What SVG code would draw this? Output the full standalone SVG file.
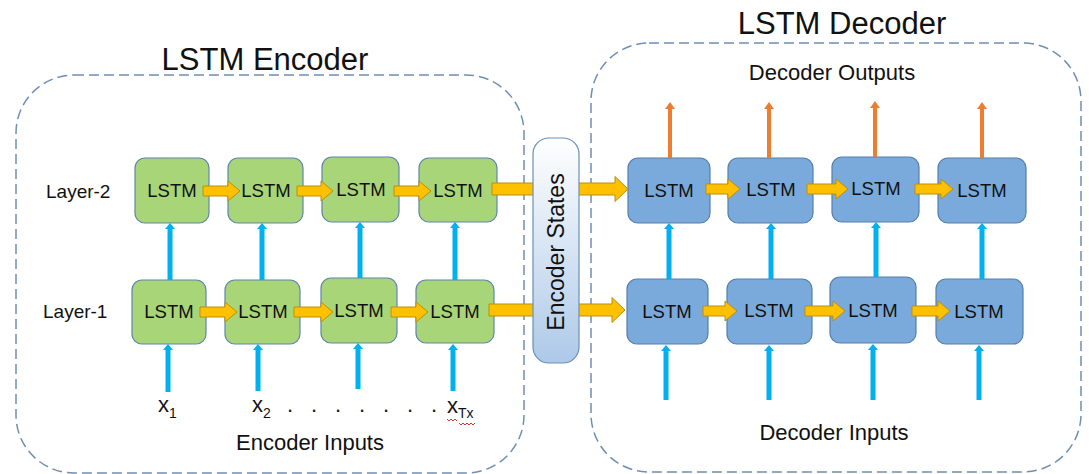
<svg xmlns="http://www.w3.org/2000/svg" width="1089" height="474" viewBox="0 0 1089 474">
  <style>
    text { font-family: "Liberation Sans", Arial, sans-serif; fill: #111111; }
    .frame { fill: none; stroke: #6f8fb5; stroke-width: 1.5; stroke-dasharray: 10 5; }
    .enc { fill: #a8d578; stroke: #5f86ad; stroke-width: 1.2; }
    .dec { fill: #7aaadb; stroke: #557fac; stroke-width: 1.2; }
    .cell { font-size: 18.5px; text-anchor: middle; }
    .title { font-size: 31px; text-anchor: middle; }
    .label { font-size: 22px; text-anchor: middle; }
    .layer { font-size: 19px; }
    .gold { fill: #ffc000; stroke: #b8900a; stroke-width: 1; }
    .up { stroke: #00b0f0; stroke-width: 5; fill: none; marker-end: url(#headBlue); }
    .out { stroke: #ed7d31; stroke-width: 4; fill: none; marker-end: url(#headOrange); }
    .xin { font-size: 22px; }
    .sub { font-size: 14px; }
  </style>
  <defs>
    <marker id="headBlue" viewBox="0 0 6 10" refX="0" refY="5" markerWidth="6" markerHeight="10" markerUnits="userSpaceOnUse" orient="auto">
      <path d="M0,0 L6,5 L0,10 Z" fill="#00b0f0"/>
    </marker>
    <marker id="headOrange" viewBox="0 0 7 10" refX="0" refY="5" markerWidth="7" markerHeight="10" markerUnits="userSpaceOnUse" orient="auto">
      <path d="M0,0 L7,5 L0,10 Z" fill="#ed7d31"/>
    </marker>
    <linearGradient id="stateFill" x1="0" y1="0" x2="0" y2="1">
      <stop offset="0" stop-color="#ffffff"/>
      <stop offset="1" stop-color="#adc9e8"/>
    </linearGradient>
  </defs>

  <!-- dashed containers and their titles -->
  <g id="encoder">
    <rect class="frame" x="16" y="75" width="508" height="398" rx="58"/>
    <text class="title" x="265" y="70">LSTM Encoder</text>
    <text class="label" x="310" y="450">Encoder Inputs</text>
    <text class="layer" x="46" y="198">Layer-2</text>
    <text class="layer" x="43" y="318">Layer-1</text>
    <text class="xin" x="158" y="412">x<tspan class="sub" dy="6">1</tspan></text>
    <text class="xin" x="252" y="412">x<tspan class="sub" dy="6">2</tspan></text>
    <text class="xin" x="287 311 335 359 383 407 431" y="412">.......</text>
    <text class="xin" x="447" y="413">x<tspan class="sub" dy="5">Tx</tspan></text>
    <path d="M447,419 l2,2 l2,-2 l2,2 l2,-2 l2,2 M459,423 l2,2 l2,-2 l2,2 l2,-2 l2,2 l2,-2 l2,2 l2,-2" fill="none" stroke="#e03030" stroke-width="1"/>
  </g>
  <g id="decoder">
    <rect class="frame" x="591" y="43" width="490" height="429" rx="58"/>
    <text class="title" x="842" y="34">LSTM Decoder</text>
    <text class="label" x="832" y="80">Decoder Outputs</text>
    <text class="label" x="834" y="440">Decoder Inputs</text>
  </g>

  <!-- encoder cells -->
  <g id="enc-2-1"><rect class="enc" x="135" y="158" width="74" height="65" rx="10"/><text class="cell" x="172" y="197">LSTM</text></g>
  <g id="enc-2-2"><rect class="enc" x="228" y="158" width="75" height="65" rx="10"/><text class="cell" x="266" y="197">LSTM</text></g>
  <g id="enc-2-3"><rect class="enc" x="322" y="157" width="77" height="65" rx="10"/><text class="cell" x="361" y="196">LSTM</text></g>
  <g id="enc-2-4"><rect class="enc" x="419" y="158" width="78" height="64" rx="10"/><text class="cell" x="458" y="197">LSTM</text></g>
  <g id="enc-1-1"><rect class="enc" x="132" y="280" width="74" height="64" rx="10"/><text class="cell" x="169" y="318">LSTM</text></g>
  <g id="enc-1-2"><rect class="enc" x="225" y="280" width="75" height="64" rx="10"/><text class="cell" x="263" y="318">LSTM</text></g>
  <g id="enc-1-3"><rect class="enc" x="321" y="278" width="76" height="65" rx="10"/><text class="cell" x="359" y="317">LSTM</text></g>
  <g id="enc-1-4"><rect class="enc" x="416" y="280" width="78" height="63" rx="10"/><text class="cell" x="455" y="318">LSTM</text></g>

  <!-- decoder cells -->
  <g id="dec-2-1"><rect class="dec" x="628" y="158" width="82" height="65" rx="10"/><text class="cell" x="669" y="197">LSTM</text></g>
  <g id="dec-2-2"><rect class="dec" x="728" y="158" width="85" height="65" rx="10"/><text class="cell" x="771" y="196">LSTM</text></g>
  <g id="dec-2-3"><rect class="dec" x="832" y="157" width="87" height="65" rx="10"/><text class="cell" x="876" y="195">LSTM</text></g>
  <g id="dec-2-4"><rect class="dec" x="938" y="158" width="88" height="65" rx="10"/><text class="cell" x="982" y="197">LSTM</text></g>
  <g id="dec-1-1"><rect class="dec" x="627" y="279" width="81" height="65" rx="10"/><text class="cell" x="667" y="318">LSTM</text></g>
  <g id="dec-1-2"><rect class="dec" x="727" y="279" width="85" height="65" rx="10"/><text class="cell" x="769" y="317">LSTM</text></g>
  <g id="dec-1-3"><rect class="dec" x="830" y="277" width="86" height="66" rx="10"/><text class="cell" x="873" y="317">LSTM</text></g>
  <g id="dec-1-4"><rect class="dec" x="936" y="279" width="87" height="65" rx="10"/><text class="cell" x="979" y="318">LSTM</text></g>

  <g id="connectors">
    <!-- encoder inputs and layer-1 to layer-2 -->
    <line class="up" x1="168" y1="392" x2="168" y2="350"/>
    <line class="up" x1="258" y1="391" x2="258" y2="350"/>
    <line class="up" x1="358" y1="389" x2="358" y2="349"/>
    <line class="up" x1="453" y1="391" x2="453" y2="350"/>
    <line class="up" x1="170" y1="280" x2="170" y2="229"/>
    <line class="up" x1="262" y1="280" x2="262" y2="229"/>
    <line class="up" x1="360" y1="278" x2="360" y2="228"/>
    <line class="up" x1="455" y1="280" x2="455" y2="228"/>
    <!-- decoder inputs and layer-1 to layer-2 -->
    <line class="up" x1="666" y1="400" x2="666" y2="351"/>
    <line class="up" x1="769" y1="400" x2="769" y2="351"/>
    <line class="up" x1="873" y1="400" x2="873" y2="350"/>
    <line class="up" x1="979" y1="400" x2="979" y2="351"/>
    <line class="up" x1="669" y1="279" x2="669" y2="229"/>
    <line class="up" x1="771" y1="279" x2="771" y2="229"/>
    <line class="up" x1="876" y1="277" x2="876" y2="228"/>
    <line class="up" x1="982" y1="279" x2="982" y2="229"/>
    <!-- decoder outputs -->
    <line class="out" x1="670" y1="158" x2="670" y2="109"/>
    <line class="out" x1="769" y1="158" x2="769" y2="109"/>
    <line class="out" x1="875" y1="157" x2="875" y2="108"/>
    <line class="out" x1="982" y1="158" x2="982" y2="109"/>
    <!-- encoder recurrent steps, layer 2 -->
    <path class="gold" d="M203,186 H228 V181 L240,191 L228,201 V196 H203 Z"/>
    <path class="gold" d="M297,186 H321 V181 L333,191 L321,201 V196 H297 Z"/>
    <path class="gold" d="M394,186 H419 V181 L431,191 L419,201 V196 H394 Z"/>
    <!-- encoder recurrent steps, layer 1 -->
    <path class="gold" d="M200,307 H225 V302 L237,312 L225,322 V317 H200 Z"/>
    <path class="gold" d="M294,307 H321 V302 L333,312 L321,322 V317 H294 Z"/>
    <path class="gold" d="M391,307 H416 V302 L428,312 L416,322 V317 H391 Z"/>
    <!-- state hand-over into the decoder -->
    <path class="gold" d="M492,183 H615 V176.5 L628,189 L615,201.5 V195 H492 Z"/>
    <path class="gold" d="M489,304 H612 V297.5 L625,310 L612,322.5 V316 H489 Z"/>
    <!-- decoder recurrent steps, layer 2 -->
    <path class="gold" d="M706,184 H728 V179 L740,189 L728,199 V194 H706 Z"/>
    <path class="gold" d="M807,184 H836 V179 L848,189 L836,199 V194 H807 Z"/>
    <path class="gold" d="M915,184 H941 V179 L953,189 L941,199 V194 H915 Z"/>
    <!-- decoder recurrent steps, layer 1 -->
    <path class="gold" d="M703,306 H725 V301 L737,311 L725,321 V316 H703 Z"/>
    <path class="gold" d="M805,306 H833 V301 L845,311 L833,321 V316 H805 Z"/>
    <path class="gold" d="M912,306 H938 V301 L950,311 L938,321 V316 H912 Z"/>
  </g>

  <g id="encoder-states">
    <rect x="533" y="138" width="46" height="225" rx="16" fill="url(#stateFill)" stroke="#6a8fb8" stroke-width="1.2"/>
    <text transform="translate(564,252) rotate(-90)" font-size="23" text-anchor="middle">Encoder States</text>
  </g>
</svg>
